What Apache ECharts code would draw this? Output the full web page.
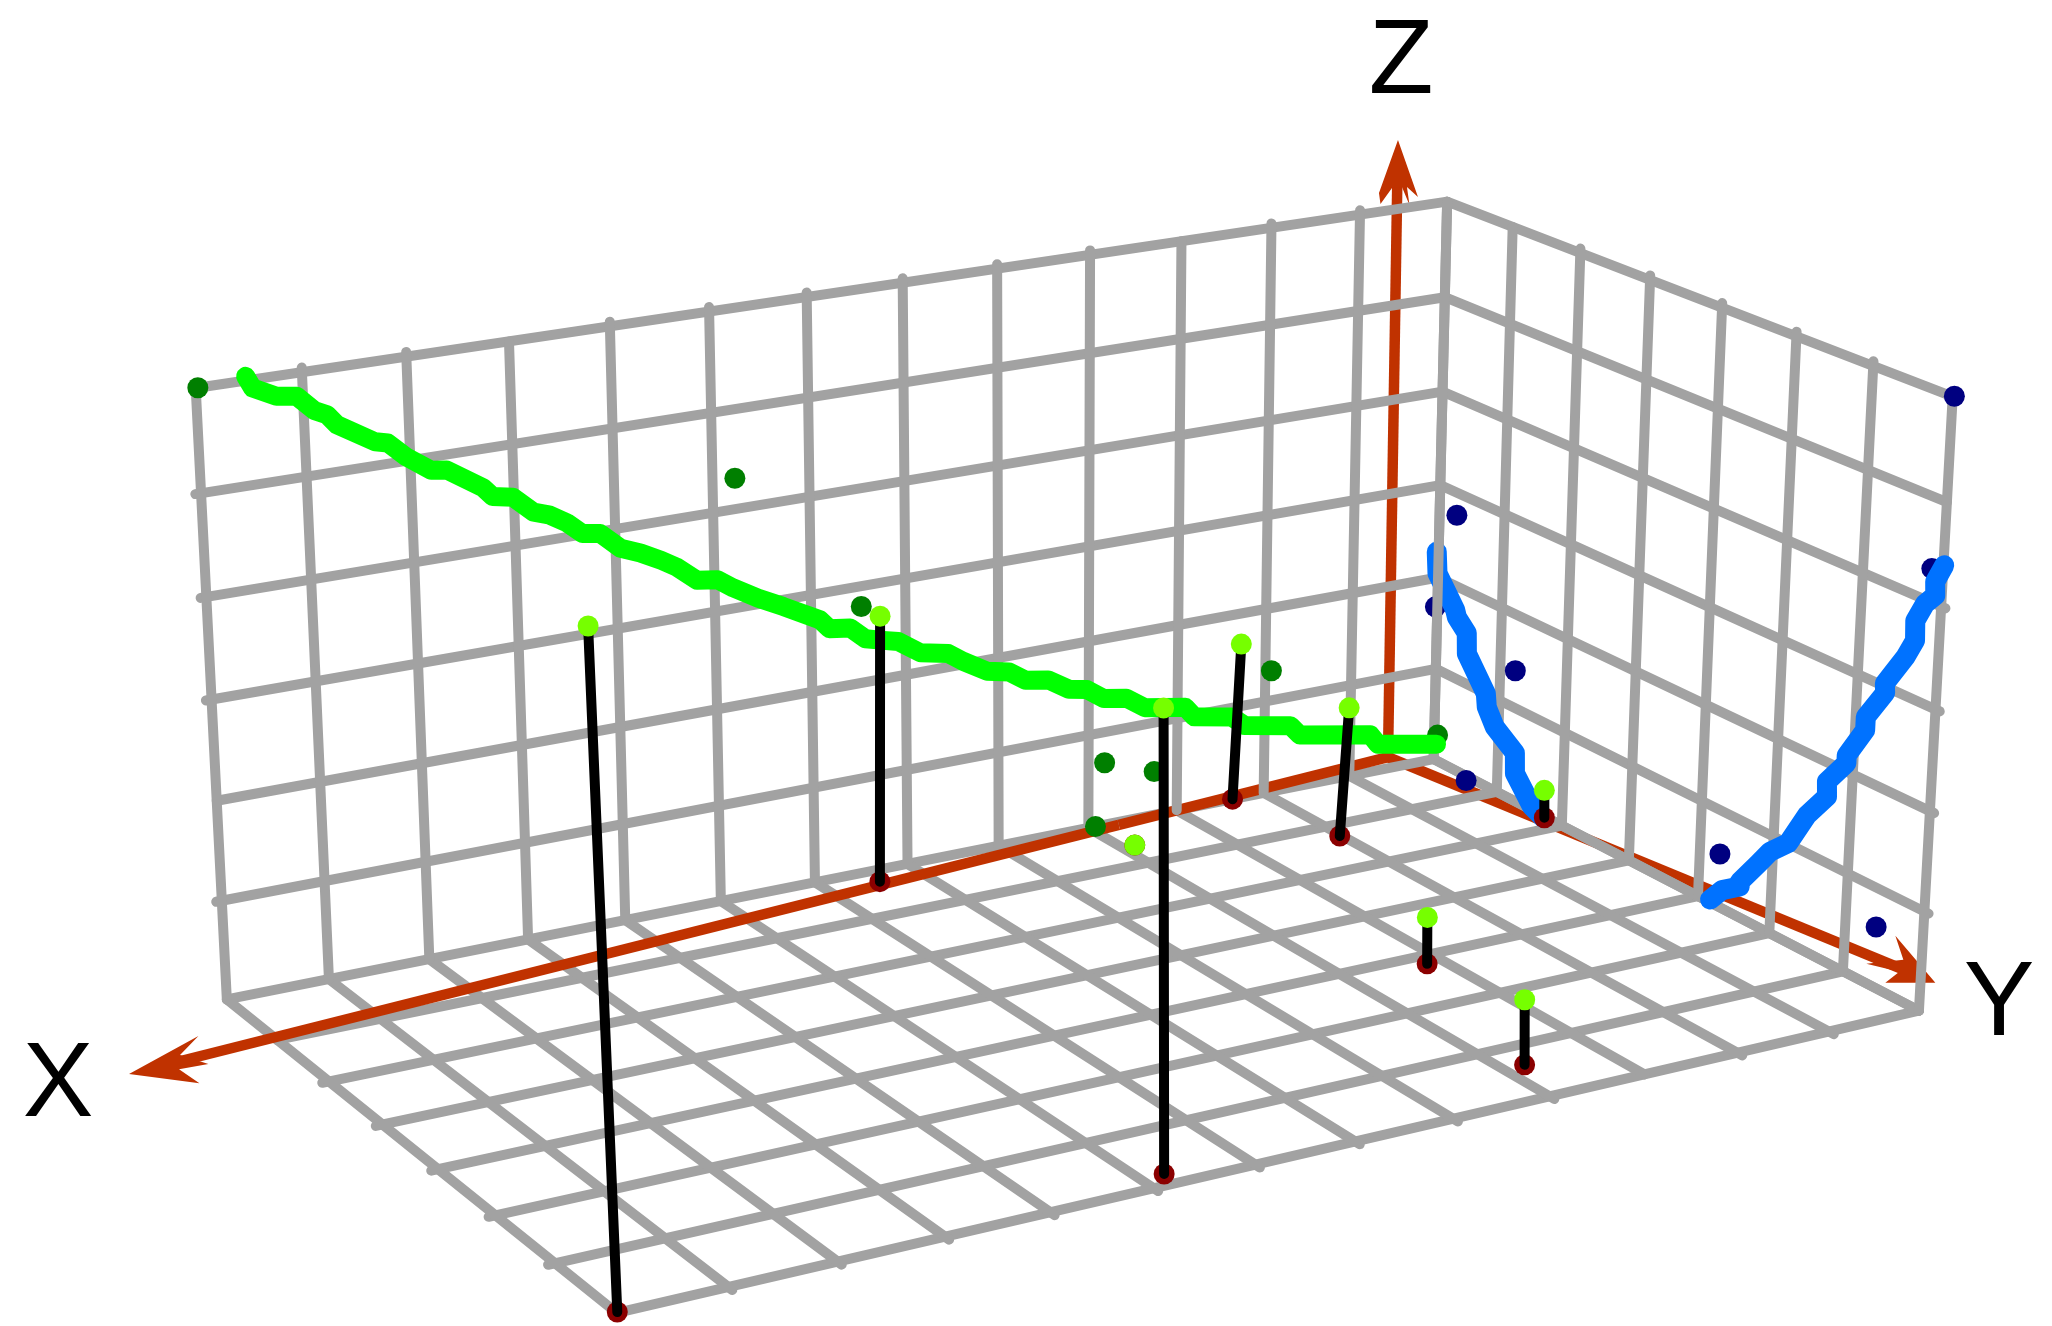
<!DOCTYPE html>
<html><head><meta charset="utf-8"><style>html,body{margin:0;background:#fff}#c{width:2052px;height:1326px}</style>
<script src="https://cdn.jsdelivr.net/npm/echarts@6/dist/echarts.min.js"></script></head>
<body><div id="c"></div>
<script>
// ---- chart data (x, y, z in grid units) ----
const xTicks=[0,1,2,3,4,5,6,7,8,9,10,11,12,13];
const yTicks=[0,1,2,3,4,5,6,7];
const zTicks=[0,1,2,3,4,5,6];
const axisNames=['X','Y','Z'];
const basePoints=[[12.99,6.99],[6.46,0.26],[7.77,6.81],[2.36,0],[2.02,1.26],[0.02,1.76],[3.17,4.17],[3.78,6.37],[3.86,0.57]];
const topPoints=[[13.08,6.99,6.07],[6.43,0.26,2.77],[7.81,6.81,4.36],[2.28,0,1.67],[1.94,1.26,1.36],[0.03,1.76,0.3],[3.18,4.17,0.48],[3.8,6.37,0.65],[3.86,0.57,0]];
const wallXZ=[[12.98,6],[7.77,4.31],[6.47,2.79],[1.93,1.32],[-0.04,0.26],[3.82,0.67],[3.26,0.47],[3.92,0]];
const wallYZ=[[7.02,6.01],[0.27,2.76],[6.86,4.32],[-0.03,1.67],[1.23,1.4],[0.52,-0.05],[4.28,0.55],[6.4,0.61]];
const curveXZ=[[12.53,6.04],[12.47,5.92],[12.25,5.81],[12.06,5.78],[11.9,5.62],[11.78,5.56],[11.69,5.45],[11.33,5.23],[11.21,5.2],[11.04,5.04],[10.8,4.87],[10.65,4.85],[10.3,4.62],[10.21,4.52],[10.01,4.48],[9.81,4.3],[9.66,4.25],[9.48,4.14],[9.33,4.01],[9.15,3.98],[8.95,3.8],[8.75,3.72],[8.54,3.61],[8.39,3.52],[8.18,3.35],[7.97,3.32],[7.81,3.21],[7.55,3.06],[7.29,2.93],[6.91,2.73],[6.81,2.62],[6.59,2.59],[6.43,2.45],[6.24,2.4],[6.08,2.36],[5.84,2.2],[5.54,2.14],[5.38,2.03],[5.12,1.88],[4.88,1.83],[4.7,1.71],[4.45,1.67],[4.22,1.53],[4.02,1.49],[3.83,1.36],[3.58,1.32],[3.37,1.18],[2.91,1.1],[2.81,0.98],[2.38,0.9],[2.23,0.78],[1.7,0.68],[1.59,0.56],[0.76,0.41],[0.67,0.29],[-0.03,0.16]];
const curveYZLeft=[[-0.03,2.27],[-0.01,2.04],[0.28,1.74],[0.31,1.67],[0.47,1.55],[0.48,1.33],[0.79,1],[0.81,0.86],[0.94,0.69],[1.26,0.52],[1.27,0.3],[1.54,0.04],[1.72,-0.02]];
const curveYZRight=[[4.17,0.03],[4.33,0.19],[4.57,0.32],[4.57,0.37],[4.81,0.65],[4.96,0.83],[5.2,1.01],[5.43,1.38],[5.68,1.66],[5.67,1.81],[5.91,2.08],[5.91,2.16],[6.13,2.49],[6.13,2.62],[6.36,2.94],[6.35,3.03],[6.59,3.37],[6.7,3.57],[6.69,3.76],[6.8,3.96],[6.92,4.08],[6.91,4.21],[7.01,4.4]];
const axisOrigin=[0.36,-0.25,0], axisXTip=[14.44,1.08,0], axisXBreak=[3.7,0.065,0], axisYTip=[-0.55,6.58,0], axisZTip=[0.36,-0.3,6.61];
// grid lines that poke slightly past the box edge
const stubTop=[1,2,4,5,6,7,8,9,11,12], stubWallZ=[1,3,4,5], stubFloorY=[2,3,4,5,6], stubFloorX=[1,2,4,5,6,7,8,9,10,11,12], stubRightY=[2,3,4,5,6], stubRightZ=[1,2,3,4];

// ---- camera: fitted to the box corners ----
const corners=[[0,0,0,1434,757],[13,0,0,224.5,1000],[0,7,0,1917,1012],[13,7,0,617,1312],[0,0,6,1447,203],[13,0,6,198,388],[0,7,6,1954.5,396],[6,0,6,899,282],[6,0,0,911,865]];
function solve(A,b){const n=b.length;A=A.map((r,i)=>[...r,b[i]]);for(let i=0;i<n;i++){let m=i;for(let k=i+1;k<n;k++)if(Math.abs(A[k][i])>Math.abs(A[m][i]))m=k;[A[i],A[m]]=[A[m],A[i]];for(let k=0;k<n;k++)if(k!=i){const f=A[k][i]/A[i][i];for(let j=i;j<=n;j++)A[k][j]-=f*A[i][j];}}return A.map((r,i)=>r[n]/r[i]);}
function fit(c){const R=[],B=[];c.forEach(([X,Y,Z,u,v])=>{R.push([X,Y,Z,1,0,0,0,0,-u*X,-u*Y,-u*Z]);B.push(u);R.push([0,0,0,0,X,Y,Z,1,-v*X,-v*Y,-v*Z]);B.push(v);});const N=Array.from({length:11},(_,i)=>Array.from({length:11},(_,j)=>R.reduce((s,r)=>s+r[i]*r[j],0)));const d=Array.from({length:11},(_,i)=>R.reduce((s,r,k)=>s+r[i]*B[k],0));return solve(N,d);}
const p=fit(corners);
function project(X,Y,Z){const w=p[8]*X+p[9]*Y+p[10]*Z+1;return [(p[0]*X+p[1]*Y+p[2]*Z+p[3])/w,(p[4]*X+p[5]*Y+p[6]*Z+p[7])/w];}

// ---- colours and widths ----
const GRAY='#a2a2a2',ORANGE='#c03200',LIME='#00ff00',BLUE='#0072ff',BLACK='#000000',DARKRED='#8b0000',CHART='#76ff00',DKGREEN='#007f00',NAVY='#000080';
const lerp=(a,b,t)=>a.map((v,i)=>v+(b[i]-v)*t);

function pathSeries(name,paths,color,width,cap){
  return {type:'custom',name,coordinateSystem:'cartesian2d',silent:true,clip:false,
    data:paths.map((_,i)=>[i,0]),encode:{x:0,y:1},
    renderItem:(params,api)=>({type:'polyline',
      shape:{points:paths[params.dataIndex].map(q=>api.coord(project(q[0],q[1],q[2])))},
      style:{stroke:color,lineWidth:width,fill:null,lineCap:cap||'round',lineJoin:'round'}})};
}
function arrowSeries(name,tip,offsets){
  return {type:'custom',name,coordinateSystem:'cartesian2d',silent:true,clip:false,
    data:[[0,0]],encode:{x:0,y:1},
    renderItem:(params,api)=>{const c=api.coord(project(tip[0],tip[1],tip[2]));
      return {type:'polygon',shape:{points:offsets.map(o=>[c[0]+o[0],c[1]+o[1]])},style:{fill:ORANGE}};}};
}
function dotSeries(name,pts,color){
  return {type:'scatter',name,silent:true,clip:false,symbol:'circle',symbolSize:21,
    itemStyle:{color,opacity:1},data:pts.map(q=>project(q[0],q[1],q[2]))};
}
function curveSeries(name,pts,color,width){
  return {type:'line',name,silent:true,clip:false,showSymbol:false,symbol:'none',smooth:false,
    lineStyle:{color,width,cap:'round',join:'round',opacity:1},data:pts.map(q=>project(q[0],q[1],q[2]))};
}
const S=.045;
const floorPaths=[...yTicks.map(j=>[[0,j,0],[13+(stubFloorY.includes(j)?S*1.4:0),j,0]]),
                  ...xTicks.map(i=>[[i,0,0],[i,7+(stubFloorX.includes(i)?S*1.4:0),0]])];
const wallXPaths=[...zTicks.filter(k=>k>0).map(k=>[[0,0,k],[13+(stubWallZ.includes(k)?S*1.2:0),0,k]]),
                  ...xTicks.map(i=>[[i,0,0],[i,0,6+(stubTop.includes(i)?S:0)]])];
const wallYPaths=[...zTicks.map(k=>[[0,0,k],[0,7+(stubRightZ.includes(k)?S*1.2:0),k]]),
                  ...yTicks.filter(j=>j>0).map(j=>[[0,j,0],[0,j,6+(stubRightY.includes(j)?S:0)]])];
const stems=basePoints.map((b,i)=>[[b[0],b[1],0],topPoints[i]]);

const series=[
  pathSeries('axisY',[[axisOrigin,lerp(axisOrigin,axisYTip,.95)]],ORANGE,10.5,'butt'),
  pathSeries('axisZ',[[axisOrigin,lerp(axisOrigin,axisZTip,.95)]],ORANGE,10.5,'butt'),
  arrowSeries('arrowY',axisYTip,[[0,0],[-40,-47],[-32,-23],[-69,-19],[-36,-11],[-50,0]]),
  arrowSeries('arrowZ',axisZTip,[[0,0],[20,57],[9,47],[11.5,65],[4,47],[-6,48],[-17.5,64],[-19,53]]),
  pathSeries('floor',floorPaths,GRAY,10),
  pathSeries('axisXnear',[[axisOrigin,axisXBreak]],ORANGE,10.5,'butt'),
  pathSeries('wallXZ',wallXPaths,GRAY,10),
  pathSeries('wallYZ',wallYPaths,GRAY,10),
  pathSeries('axisXfar',[[axisXBreak,lerp(axisXBreak,axisXTip,.96)]],ORANGE,10.5,'butt'),
  arrowSeries('arrowX',axisXTip,[[0,0],[69.4,-38],[51,-19],[79.4,-10],[50,-4.7],[70.4,9.3]]),
  dotSeries('projYZ',wallYZ.map(q=>[0,q[0],q[1]]),NAVY),
  curveSeries('fitYZleft',curveYZLeft.map(q=>[0,q[0],q[1]]),BLUE,20),
  curveSeries('fitYZright',curveYZRight.map(q=>[0,q[0],q[1]]),BLUE,20),
  pathSeries('backEdge',[[[0,0,0],[0,0,6]]],GRAY,10),
  dotSeries('projXZ',wallXZ.map(q=>[q[0],0,q[1]]),DKGREEN),
  curveSeries('fitXZ',curveXZ.map(q=>[q[0],0,q[1]]),LIME,19),
  dotSeries('base',basePoints.map(b=>[b[0],b[1],0]),DARKRED),
  pathSeries('stems',stems,BLACK,10),
  dotSeries('points',topPoints,CHART)
];
series.forEach((s,i)=>{s.z=i+2;});

const chart=echarts.init(document.getElementById('c'),null,{renderer:'canvas'});
chart.setOption({
  animation:false,backgroundColor:'#ffffff',
  grid:{left:0,right:0,top:0,bottom:0},
  xAxis:{type:'value',min:0,max:2052,show:false},
  yAxis:{type:'value',min:0,max:1326,inverse:true,show:false},
  graphic:axisNames.map((t,i)=>({type:'text',silent:true,x:[58,1999,1401][i],y:[1087,1006,64][i],
    style:{text:t,fill:'#000',font:'106px "Liberation Sans"',align:'center',verticalAlign:'middle'}})),
  series
});
</script></body></html>
